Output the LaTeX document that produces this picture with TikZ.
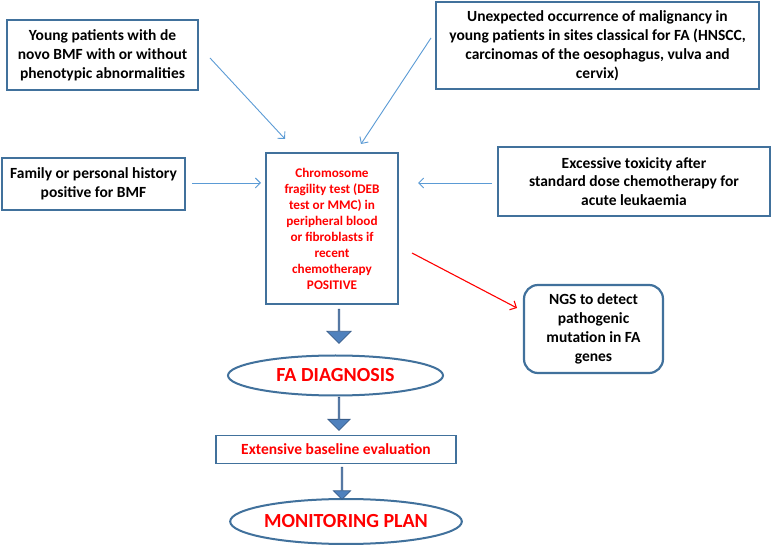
\documentclass[tikz,border=0pt]{standalone}
\usepackage{fontspec}
\setmainfont{Carlito}
\usetikzlibrary{arrows.meta,shapes.geometric,shapes.arrows}
\definecolor{boxblue}{HTML}{41719C}
\definecolor{lineblue}{HTML}{5B9BD5}
\definecolor{arrowfill}{HTML}{4F81BD}
\definecolor{arrowedge}{HTML}{385D8A}
\definecolor{fared}{HTML}{FF0000}
\tikzset{
  infobox/.style={draw=boxblue, line width=2.2pt, fill=white, align=center, inner sep=0pt,
    font=\fontsize{15.5}{19}\selectfont\bfseries},
  redtext/.style={text=fared},
  thinarrow/.style={draw=lineblue, line width=0.9pt, -{Straight Barb[length=5pt,width=10pt]}},
  redarrow/.style={draw=fared, line width=1.1pt, -{Straight Barb[length=5pt,width=10pt]}},
  ovalbox/.style={ellipse, draw=boxblue, line width=2pt, inner sep=0pt, text=fared},
  blockarrow/.style={single arrow, draw=arrowedge, fill=arrowfill, line width=0.8pt,
    inner sep=0pt, shape border rotate=270, single arrow tip angle=90}
}
\begin{document}
\begin{tikzpicture}[x=1pt,y=-1pt]
\useasboundingbox[fill=white] (0,0) rectangle (772,545);

\node[infobox, minimum width=191pt, minimum height=70pt] (young) at (102.5,55)
  {Young patients with de\\novo BMF with or without\\phenotypic abnormalities};
\node[infobox, minimum width=323pt, minimum height=87pt] (unexp) at (597.5,45.5)
  {Unexpected occurrence of malignancy in\\young patients in sites classical for FA (HNSCC,\\carcinomas of the oesophagus, vulva and\\cervix)};
\node[infobox, minimum width=183pt, minimum height=52pt] (family) at (93.5,184)
  {Family or personal history\\positive for BMF};
\node[infobox, redtext, minimum width=132pt, minimum height=151pt, font=\fontsize{13.2}{16}\selectfont\bfseries] (chrom) at (332,228.5)
  {Chromosome\\fragility test (DEB\\test or MMC) in\\peripheral blood\\or fibroblasts if\\recent\\chemotherapy\\POSITIVE};
\node[infobox, minimum width=272pt, minimum height=69pt, font=\fontsize{15.5}{18.5}\selectfont\bfseries] (excess) at (634,181.5)
  {Excessive toxicity after\\standard dose chemotherapy for\\acute leukaemia};
\node[infobox, rounded corners=14pt, minimum width=139pt, minimum height=88pt] (ngs) at (593.5,329)
  {NGS to detect\\pathogenic\\mutation in FA\\genes};
\node[ovalbox, minimum width=215pt, minimum height=40pt, font=\fontsize{20}{23}\selectfont\bfseries] (diag) at (335.5,375.5)
  {FA DIAGNOSIS};
\node[infobox, redtext, minimum width=240pt, minimum height=28pt, line width=1.8pt] (base) at (336,449.5)
  {Extensive baseline evaluation};
\node[ovalbox, minimum width=222pt, minimum height=45pt, font=\fontsize{20}{24}\selectfont\bfseries] (plan) at (346,521.5)
  {MONITORING PLAN};

% thin connectors
\coordinate (y0) at (210,58);
\coordinate (y1) at (285,139);
\draw[thinarrow] (y0) -- (y1);
\coordinate (u0) at (431,38);
\coordinate (u1) at (361,144);
\draw[thinarrow] (u0) -- (u1);
\coordinate (f0) at (192,183);
\coordinate (f1) at (261,183);
\draw[thinarrow] (f0) -- (f1);
\coordinate (e0) at (492,183);
\coordinate (e1) at (418,183);
\draw[thinarrow] (e0) -- (e1);
\coordinate (r0) at (412,253);
\coordinate (r1) at (517,308);
\draw[redarrow] (r0) -- (r1);

% block arrows
\node[blockarrow, minimum height=34pt, minimum width=24pt, single arrow head extend=6.5pt] (ba1) at (339,326) {};
\node[blockarrow, minimum height=33pt, minimum width=22pt, single arrow head extend=5.5pt] (ba2) at (339,413.5) {};
\node[blockarrow, minimum height=32pt, minimum width=17pt, single arrow head extend=4.5pt] (ba3) at (342,483) {};
\end{tikzpicture}
\end{document}
